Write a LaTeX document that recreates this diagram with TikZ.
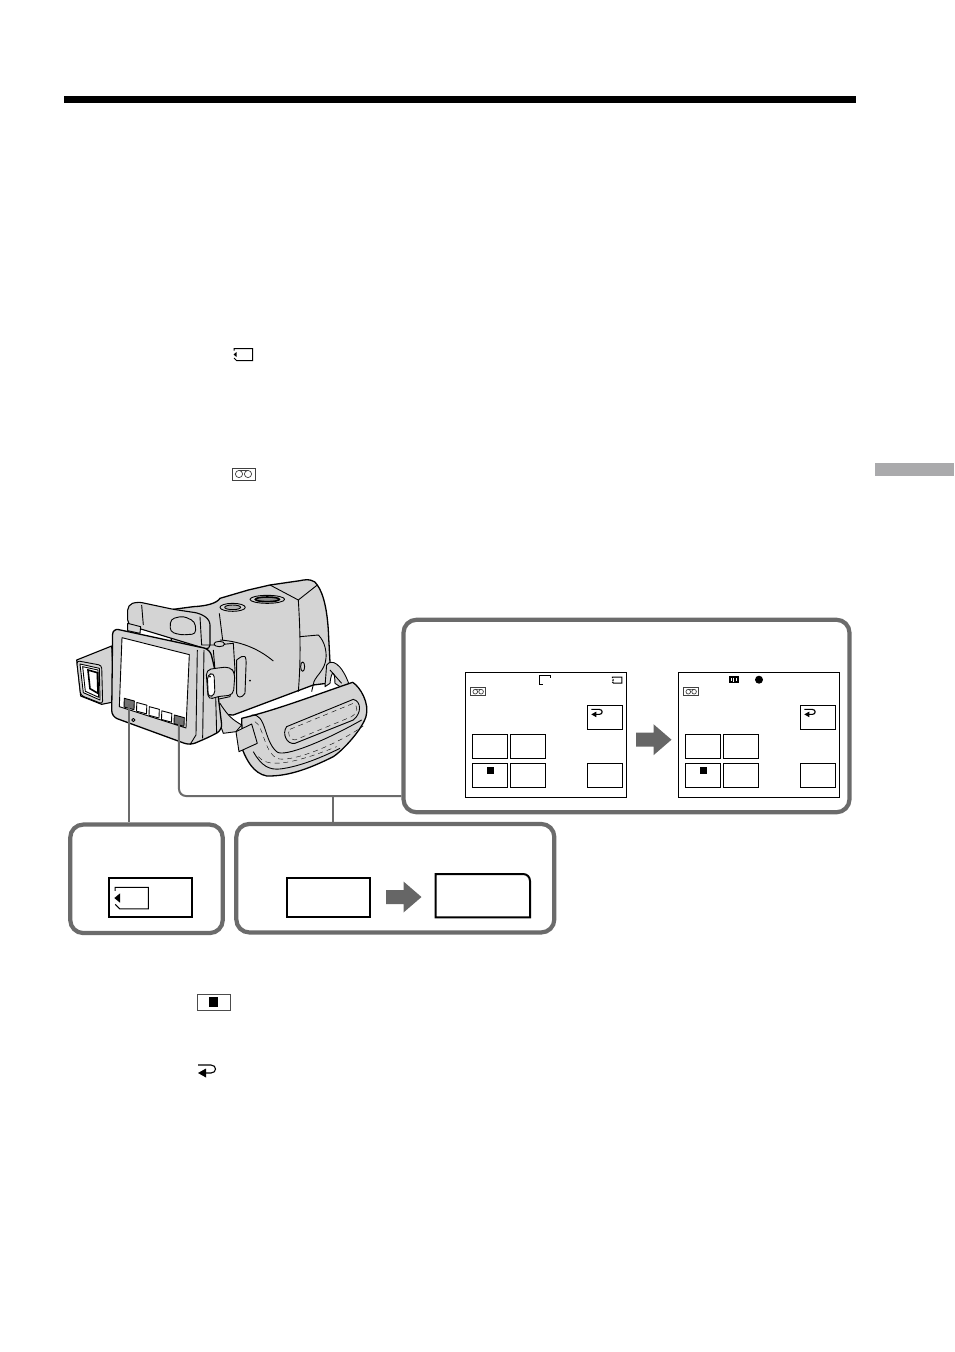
\documentclass[tikz,border=0pt]{standalone}
\usetikzlibrary{calc}
\definecolor{panelgray}{gray}{0.42}
\definecolor{bodygray}{gray}{0.83}
\definecolor{tabgray}{RGB}{170,170,172}
\tikzset{
  panelbox/.style={draw=panelgray,line width=4.2pt,rounded corners=13pt,fill=white,inner sep=0pt},
  screenbox/.style={draw=black,line width=1pt,fill=white,inner sep=0pt,minimum width=161.5pt,minimum height=125pt},
  softkey/.style={draw=black,line width=.9pt,fill=white,inner sep=0pt,minimum width=35.3pt,minimum height=24pt},
  labelbox/.style={draw=black,line width=2pt,fill=white,inner sep=0pt,minimum width=83.5pt,minimum height=39.5pt},
  wire/.style={draw=panelgray,line width=2pt},
  cam/.style={draw=black,line width=.9pt,line join=round},
  camfill/.style={cam,fill=bodygray},
  stitch/.style={draw=black,line width=.4pt,dash pattern=on 5pt off 4pt},
  bigarrow/.pic={\fill[panelgray!95!black] (0,-7) -- (17.5,-7) -- (17.5,-15.5) -- (35.5,0) -- (17.5,15.5) -- (17.5,7) -- (0,7) -- cycle;},
  cardicon/.pic={
    \draw[line width=1pt] (.5,2) -- (.5,0) -- (19,0) -- (19,12) -- (3,12) -- (.5,9.5);
    \fill (0,6) -- (3.2,3.4) -- (3.2,8.6) -- cycle;},
  tapeicon/.pic={
    \draw[draw=black!75,line width=.8pt] (0,0) rectangle (23,12);
    \draw[draw=black!75,line width=.7pt] (7,6) circle (3.6) (16,6) circle (3.6) (7,2.4) -- (16,2.4);},
  returnicon/.pic={
    \draw[line width=1.1pt] (0,1.5) -- (13,1.5) .. controls (19,1.5) and (19,9.5) .. (13,9.5) -- (7,9.5);
    \fill (0,9.5) -- (8,5) -- (8,14) -- cycle;}
}
\begin{document}
\begin{tikzpicture}[x=1pt,y=-1pt]
  \useasboundingbox (0,0) rectangle (954,1352);
  % page furniture
  \fill (64,96.3) rectangle (856,103);
  \fill[tabgray] (875,463) rectangle (954,476);
  \pic at (233.5,348.5) {cardicon};
  \pic at (232,468) {tapeicon};
  \draw[draw=black!70,line width=.8pt] (197.3,994) rectangle (230.3,1010.3);
  \fill (209,996.7) rectangle (217.7,1007.3);
  \pic at (198,1063.5) {returnicon};
  % camera, traced in zoomed coordinates
  \begin{scope}[shift={(60,570)},x=.3333pt,y=-.3333pt]
    % viewfinder
    \draw[camfill,line width=1.1pt] (50,270) -- (155,228) -- (165,395) -- (125,403) -- (62,378) -- cycle;
    \draw[cam,fill=bodygray,rounded corners=3pt] (50,272) -- (125,286) -- (128,402) -- (62,376) -- cycle;
    \draw[cam,fill=white] (60,282) -- (118,295) -- (120,390) -- (70,368) -- cycle;
    \draw[cam] (68,290) -- (114,300) -- (116,382) -- (76,364) -- cycle;
    \draw[line width=1.6pt,fill=white] (84,300) -- (112,308) -- (114,370) -- (90,356) -- cycle;
    % body
    \draw[camfill,line width=1.3pt] (330,150) -- (340,118) -- (400,110) .. controls (440,108) and (470,100) .. (480,85)
      -- (565,60) -- (630,45) -- (720,32) .. controls (745,26) and (765,30) .. (772,45)
      .. controls (790,70) and (803,120) .. (806,200)
      -- (810,275) -- (800,340) -- (760,345) -- (520,435) -- (420,430) -- (340,300) -- cycle;
    \draw[cam] (630,45) -- (715,90) -- (772,45);
    \draw[cam] (715,90) .. controls (722,200) and (722,280) .. (715,365);
    \draw[cam] (720,200) -- (775,195) .. controls (795,215) and (800,245) .. (798,265)
      .. controls (795,300) and (770,315) .. (762,335) -- (755,365);
    \draw[cam] (478,130) -- (488,210);
    \draw[cam] (480,210) .. controls (550,215) and (600,240) .. (640,273);
    \draw[cam] (530,270) .. controls (555,250) and (560,255) .. (558,290) -- (555,370)
      .. controls (545,385) and (532,385) .. (530,370) -- cycle;
    \draw[cam,fill=bodygray] (518,112) ellipse (38 and 12);
    \draw[cam,fill=black!30] (518,112) ellipse (24 and 7);
    \draw[cam,fill=bodygray] (622,88) ellipse (52 and 12);
    \draw[line width=1.6pt,fill=black!45] (622,88) ellipse (36 and 7);
    \draw[cam] (728,290) ellipse (6 and 14);
    \fill (570,332) circle (3);
    % wrist ring
    \draw[camfill] (795,350) -- (800,285) .. controls (815,265) and (845,280) .. (868,345) -- (840,350) -- (825,340)
      .. controls (825,305) and (815,295) .. (810,340) -- cycle;
    \draw[cam] (810,300) -- (845,340);
    % grip strap
    \draw[camfill] (480,400) .. controls (505,440) and (520,450) .. (545,465) -- (528,485) -- (490,490) -- (465,420) -- cycle;
    \draw[camfill,line width=1.3pt] (545,445) .. controls (650,420) and (780,370) .. (878,337)
      .. controls (900,350) and (930,400) .. (918,440) .. controls (905,480) and (850,540) .. (820,560)
      .. controls (760,590) and (690,620) .. (620,618) .. controls (580,610) and (560,570) .. (548,540) -- cycle;
    \draw[cam] (575,435) .. controls (620,430) and (610,510) .. (650,545)
      .. controls (670,565) and (800,510) .. (905,450);
    \draw[stitch] (585,455) .. controls (612,470) and (610,540) .. (650,565)
      .. controls (690,580) and (830,525) .. (910,468);
    \draw[cam] (580,545) .. controls (605,590) and (630,600) .. (660,597) .. controls (720,590) and (790,560) .. (840,535);
    \draw[stitch] (595,560) .. controls (620,590) and (680,590) .. (830,530);
    \draw[cam,fill=bodygray] (680,470) -- (880,388) .. controls (905,395) and (905,430) .. (880,450)
      -- (705,520) .. controls (680,525) and (665,490) .. (680,470) -- cycle;
    \draw[stitch] (690,478) -- (880,400) .. controls (895,410) and (895,425) .. (875,440) -- (705,510)
      .. controls (690,510) and (680,490) .. (690,478) -- cycle;
    \draw[camfill] (528,485) -- (575,462) -- (592,520) -- (537,545) -- cycle;
    % hood and hinge
    \draw[camfill,line width=1.1pt,rounded corners=5pt] (203,165) -- (203,105) -- (232,95) -- (340,118) -- (420,130) -- (450,150) -- (450,240) -- cycle;
    \draw[cam] (245,105) -- (250,165);
    \draw[camfill,rounded corners=4pt] (330,185) -- (332,147) -- (370,138) -- (405,155) -- (408,192) -- (362,195) -- cycle;
    \draw[cam] (420,140) -- (425,225) -- (470,225) -- (520,220) -- (525,300) -- (510,380) -- (440,395);
    \draw[cam,fill=bodygray] (478,222) ellipse (16 and 8);
    % lcd panel
    \draw[camfill,line width=1.3pt,rounded corners=6pt] (158,175) -- (450,238) -- (465,300) -- (487,480) -- (450,500) -- (390,526) -- (155,440) -- cycle;
    \draw[cam] (412,240) -- (408,495) -- (390,524);
    \draw[cam] (432,240) -- (428,505);
    \draw[cam] (460,240) -- (465,300) -- (470,490);
    \draw[cam,fill=bodygray] (203,160) -- (242,170) -- (240,190) -- (203,182) -- cycle;
    \draw[cam,fill=white] (186,203) -- (388,254) -- (378,474) -- (178,410) -- cycle;
    \draw[cam,rounded corners=5pt,fill=bodygray] (438,300) -- (465,295) -- (510,290) -- (525,310) -- (520,375) -- (470,380) -- (445,390) -- cycle;
    \draw[cam,fill=white,rounded corners=4pt] (442,315) -- (462,308) -- (465,375) -- (445,382) -- cycle;
    \fill (450,320) circle (3);
    \foreach \i/\shade in {0/black!55,1/white,2/white,3/white,4/black!55}
      \draw[cam,fill=\shade] ($(193,385)+(\i*37.5,\i*12.5)$) -- ++(30,8) -- ++(-1,26) -- ++(-30,-8) -- cycle;
    \draw[cam] (220,450) circle (5);
    \coordinate (btnfirst) at (208,402);
    \coordinate (btnlast) at (357,455);
  \end{scope}
  % call-out panels
  \node[panelbox,minimum width=446pt,minimum height=192.5pt] (panelscreen) at (626.5,716) {};
  \node[panelbox,minimum width=152.5pt,minimum height=108.5pt] (panelcard) at (146.5,878.8) {};
  \node[panelbox,minimum width=318pt,minimum height=108.5pt] (paneltape) at (395.3,878.2) {};
  \coordinate (junction) at (333,796);
  \draw[wire] (btnfirst) -- (btnfirst |- panelcard.north);
  \draw[wire,rounded corners=7pt] (btnlast) |- (junction) -- (junction -| panelscreen.west);
  \draw[wire] (junction) -- (junction |- paneltape.north);
  % the two screens
  \foreach \name/\dx in {left/0,right/213}{
    \begin{scope}[shift={(\dx,0)}]
      \node[screenbox] (screen\name) at (546,734.8) {};
      \node[softkey] (keyback\name) at (604.8,717.3) {};
      \node[softkey] (keya\name) at (490,746.3) {};
      \node[softkey] (keyb\name) at (528,746.3) {};
      \node[softkey] (keystop\name) at (490,775.3) {};
      \node[softkey] (keyc\name) at (528,775.3) {};
      \node[softkey] (keyd\name) at (604.8,775.3) {};
      \fill (486.7,766.7) rectangle (494,774);
      \pic[scale=.62] at (591.3,708.5) {returnicon};
      \pic[scale=.65] at (470.7,687.8) {tapeicon};
    \end{scope}
  }
  \draw[line width=.8pt] (550,677.5) -- (550,675.7) -- (539.3,675.7) -- (539.3,684) -- (543,684);
  \pic[scale=.52] at (612,677) {cardicon};
  \fill (729,676) rectangle (739,683);
  \draw[white,line width=.5pt] (731,678) -- (731,681) (733.5,677.5) -- (733.5,681.5) (736.5,678) -- (736.5,681);
  \fill (759,679.7) circle (4);
  \pic at (636,739.7) {bigarrow};
  % lower boxes
  \node[labelbox] (boxcard) at (150.6,897.5) {};
  \pic[scale=1.79] at (114.3,887.3) {cardicon};
  \node[labelbox] (boxbefore) at (328.7,897.5) {};
  \pic at (386,897) {bigarrow};
  \draw[line width=2pt,line join=miter] (435.7,917.3) -- (435.7,874) -- (523,874) .. controls (527,874) and (530,877) .. (530,881) -- (530,917.3) -- cycle;
\end{tikzpicture}
\end{document}
